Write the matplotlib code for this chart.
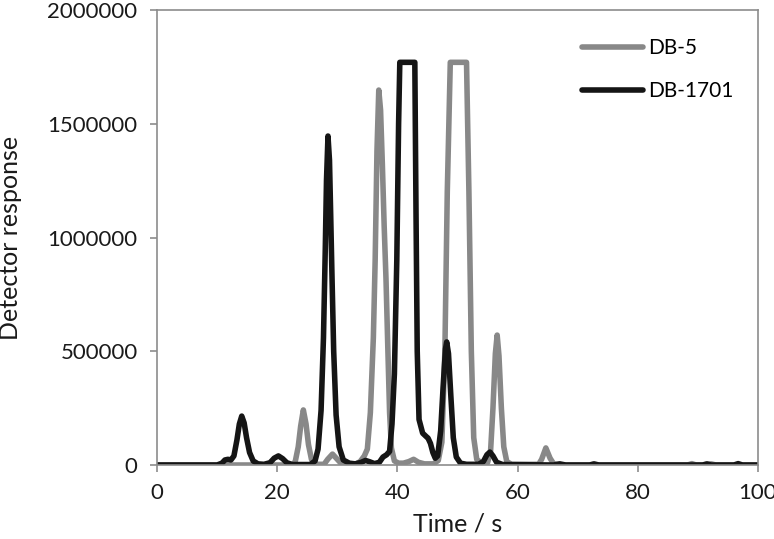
import matplotlib
matplotlib.use("Agg")
import matplotlib.pyplot as plt

# DB-5 trace (time in s, detector response)
db5_time = [0, 22.5, 23.0, 23.5, 23.9, 24.35, 24.8, 25.2, 25.7, 26.3,
            27.8, 28.4, 29.2, 30.0, 30.7, 33.0, 33.8, 34.5, 35.0, 35.5,
            36.0, 36.3, 36.6, 36.9, 37.2, 37.5, 37.8, 38.1, 38.4, 38.7,
            39.0, 39.5, 40.2, 41.0, 41.9, 42.7, 43.5, 44.5, 46.0, 46.8,
            47.4, 47.9, 48.3, 48.8, 51.5, 51.9, 52.3, 52.7, 53.2, 54.0,
            55.0, 55.5, 55.9, 56.3, 56.6, 56.9, 57.3, 57.7, 58.2, 59.0,
            63.5, 64.0, 64.7, 65.4, 66.0, 67.0, 88.3, 89.0, 89.7, 91.5,
            92.2, 93.0, 100]
db5_resp = [0, 0, 15000, 80000, 170000, 242000, 180000, 90000, 25000, 3000,
            3000, 25000, 48000, 25000, 5000, 3000, 15000, 40000, 70000, 230000,
            560000, 900000, 1380000, 1648000, 1560000, 1320000, 1050000, 820000, 520000, 230000,
            75000, 18000, 8000, 8000, 15000, 25000, 12000, 5000, 5000, 20000,
            100000, 500000, 1200000, 1770000, 1770000, 1200000, 500000, 120000, 25000, 8000,
            10000, 60000, 250000, 490000, 571000, 480000, 250000, 80000, 15000, 3000,
            3000, 25000, 75000, 30000, 5000, 0, 0, 6000, 0, 0,
            5000, 0, 0]

# DB-1701 trace
db1701_time = [0, 10.0, 10.8, 11.3, 11.8, 12.3, 12.8, 13.3, 13.7, 14.1,
               14.5, 14.9, 15.4, 16.0, 16.8, 17.8, 18.8, 19.5, 20.2, 20.9,
               21.6, 22.5, 25.5, 26.3, 26.8, 27.3, 27.7, 28.0, 28.2, 28.45,
               28.7, 28.9, 29.1, 29.4, 29.8, 30.3, 31.0, 32.0, 33.0, 34.0,
               34.7, 35.4, 36.2, 37.0, 37.6, 38.2, 38.7, 39.1, 39.5, 39.9,
               40.2, 40.4, 42.9, 43.1, 43.3, 43.6, 44.2, 44.8, 45.1, 45.5,
               45.9, 46.3, 46.7, 47.2, 47.6, 48.0, 48.2, 48.5, 48.9, 49.3,
               49.8, 50.5, 51.5, 53.5, 54.3, 54.9, 55.4, 55.9, 56.5, 57.5,
               66.0, 67.0, 68.0, 72.0, 72.7, 73.5, 90.8, 91.5, 92.2, 96.0,
               96.7, 97.4, 100]
db1701_resp = [0, 0, 8000, 22000, 25000, 22000, 40000, 110000, 180000, 215000,
               185000, 120000, 55000, 18000, 5000, 3000, 10000, 30000, 40000, 28000,
               10000, 2000, 2000, 18000, 70000, 240000, 560000, 950000, 1250000, 1446000,
               1340000, 1100000, 850000, 500000, 220000, 80000, 22000, 8000, 5000, 12000,
               20000, 14000, 6000, 12000, 35000, 45000, 60000, 180000, 400000, 900000,
               1500000, 1770000, 1770000, 1100000, 500000, 200000, 140000, 125000, 118000, 95000,
               55000, 30000, 40000, 150000, 340000, 510000, 541000, 490000, 300000, 120000,
               35000, 8000, 3000, 3000, 15000, 45000, 57000, 40000, 12000, 2000,
               0, 5000, 0, 0, 5000, 0, 0, 5000, 0, 0,
               6000, 0, 0]

x_ticks = [0, 20, 40, 60, 80, 100]
y_ticks = [0, 500000, 1000000, 1500000, 2000000]
y_tick_labels = ["0", "500000", "1000000", "1500000", "2000000"]

plt.rcParams["font.family"] = ["Lato", "DejaVu Sans"]

fig = plt.figure(figsize=(7.74, 5.39), dpi=100)
ax = fig.add_axes([157 / 774, 74 / 539, 601 / 774, 455 / 539])

ax.plot(db5_time, db5_resp, color="#888888", lw=4.0, label="DB-5",
        solid_joinstyle="round", solid_capstyle="round")
ax.plot(db1701_time, db1701_resp, color="#151515", lw=4.0, label="DB-1701",
        solid_joinstyle="round", solid_capstyle="round")

ax.set_xlim(0, 100)
ax.set_ylim(0, 2000000)
ax.set_xticks(x_ticks)
ax.set_yticks(y_ticks)
ax.set_yticklabels(y_tick_labels)

frame_color = "#8c8c8c"
for spine in ax.spines.values():
    spine.set_color(frame_color)
    spine.set_linewidth(1.2)
ax.tick_params(axis="both", direction="out", length=5, width=1.2, color=frame_color,
               labelsize=16, labelcolor="#1a1a1a")
ax.tick_params(axis="x", pad=8)
ax.tick_params(axis="y", pad=9)

ax.set_xlabel("Time / s", fontsize=18, color="#1a1a1a", labelpad=7)
ax.set_ylabel("Detector response", fontsize=18, color="#1a1a1a", labelpad=18)

ax.legend(loc="upper left", bbox_to_anchor=(572 / 774, 1 - 28 / 539),
          bbox_transform=fig.transFigure, frameon=False, fontsize=15,
          handlelength=2.9, handletextpad=0.25, labelspacing=1.1, borderpad=0)

fig.savefig("out.png", dpi=100)
